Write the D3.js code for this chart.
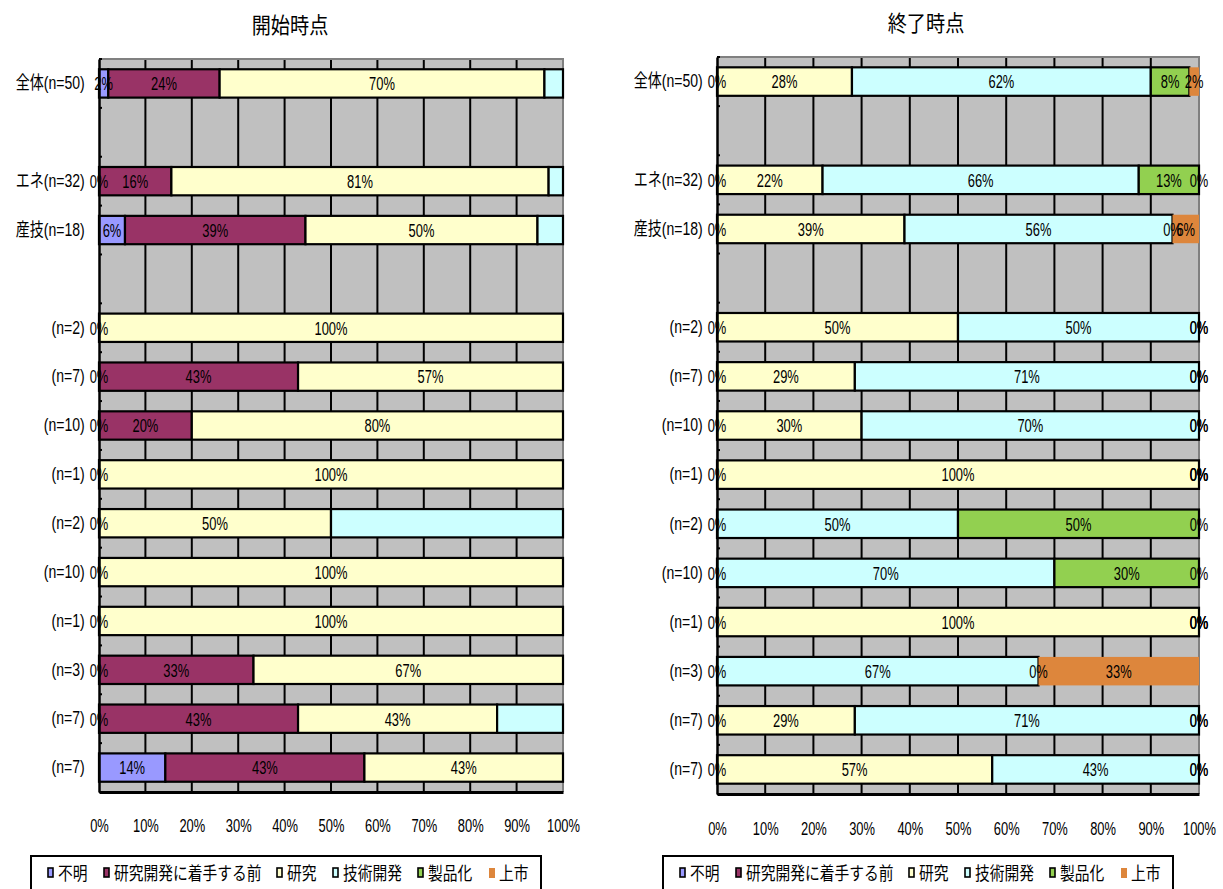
<!DOCTYPE html>
<html>
<head>
<meta charset="utf-8">
<script src="https://cdn.jsdelivr.net/npm/d3@7"></script>
<style>
  html, body { margin: 0; padding: 0; background: #ffffff; }
  svg { display: block; }
  text { font-family: "Liberation Sans", "Noto Sans CJK JP", sans-serif; fill: #000; }
</style>
</head>
<body>
<svg id="chart" width="1223" height="889"></svg>
<script>
// Row labels; empty strings are spacer rows between the groups
const categories = [
  "全体(n=50)", "", "エネ(n=32)", "産技(n=18)", "",
  "(n=2)", "(n=7)", "(n=10)", "(n=1)", "(n=2)", "(n=10)",
  "(n=1)", "(n=3)", "(n=7)", "(n=7)"
];

const seriesNames = ["不明", "研究開発に着手する前", "研究", "技術開発", "製品化", "上市"];
const seriesColors = ["#9999ff", "#993366", "#ffffcc", "#ccffff", "#92d050", "#dd863c"];
const seriesStroke = [true, true, true, true, true, false];

const xTicks = [0, 10, 20, 30, 40, 50, 60, 70, 80, 90, 100];

// 開始時点 (percent of each row; null = not present)
const startUnknown  = [2, null, 0, 5.6, null, 0, 0, 0, 0, 0, 0, 0, 0, 0, 14.3];
const startPre      = [24, null, 15.6, 38.9, null, null, 42.9, 20, null, null, null, null, 33.3, 42.9, 42.9];
const startResearch = [70, null, 81.3, 50, null, 100, 57.1, 80, 100, 50, 100, 100, 66.7, 42.9, 42.8];
const startTech     = [4, null, 3.1, 5.5, null, null, null, null, null, 50, null, null, null, 14.2, null];
const startProduct  = [null, null, null, null, null, null, null, null, null, null, null, null, null, null, null];
const startLaunch   = [null, null, null, null, null, null, null, null, null, null, null, null, null, null, null];

// 終了時点
const endUnknown  = [0, null, 0, 0, null, 0, 0, 0, 0, 0, 0, 0, 0, 0, 0];
const endPre      = [null, null, null, null, null, null, null, null, null, null, null, null, null, null, null];
const endResearch = [28, null, 21.9, 38.9, null, 50, 28.6, 30, 100, null, null, 100, null, 28.6, 57.1];
const endTech     = [62, null, 65.6, 55.6, null, 50, 71.4, 70, 0, 50, 70, 0, 66.7, 71.4, 42.9];
const endProduct  = [8, null, 12.5, 0, null, 0, 0, 0, 0, 50, 30, 0, 0, 0, 0];
const endLaunch   = [2, null, 0, 5.5, null, 0, 0, 0, 0, 0, 0, 0, 33.3, 0, 0];

const svg = d3.select("#chart");
const pct = v => d3.format(".0f")(v) + "%";

function drawPanel(opt) {
  const { title, series, showLabel, left, right, top, bottom, titleX, titleY, tickY, legendX } = opt;
  const g = svg.append("g");

  const x = d3.scaleLinear().domain([0, 100]).range([left, right]);
  const y = d3.scaleBand().domain(d3.range(categories.length)).range([top, bottom]).paddingInner(0.42).paddingOuter(0.21);

  // title
  g.append("text")
    .attr("transform", `translate(${titleX},${titleY}) scale(0.87,1)`)
    .attr("text-anchor", "middle")
    .attr("font-size", 22)
    .attr("font-family", "'Noto Sans CJK JP', sans-serif")
    .text(title);

  // plot background
  g.append("rect")
    .attr("x", left).attr("y", top)
    .attr("width", right - left).attr("height", bottom - top)
    .attr("fill", "#c0c0c0");

  // vertical gridlines
  g.append("g").selectAll("line")
    .data(xTicks.filter(t => t > 0 && t < 100))
    .join("line")
    .attr("x1", d => x(d)).attr("x2", d => x(d))
    .attr("y1", top).attr("y2", bottom)
    .attr("stroke", "#000").attr("stroke-width", 2);

  // frame top/right
  g.append("path")
    .attr("d", `M${left},${top}H${right}V${bottom}`)
    .attr("fill", "none").attr("stroke", "#808080").attr("stroke-width", 2);

  // stacked segments
  const segs = [];
  categories.forEach((c, i) => {
    let acc = 0;
    series.forEach((arr, s) => {
      const v = arr[i];
      if (v === null || v === undefined) return;
      segs.push({ row: i, s, x0: acc, x1: acc + v, v });
      acc += v;
    });
  });

  g.append("g").selectAll("rect")
    .data(segs.filter(d => d.v > 0))
    .join("rect")
    .attr("x", d => x(d.x0))
    .attr("y", d => y(d.row))
    .attr("width", d => x(Math.min(d.x1, 100)) - x(d.x0))
    .attr("height", y.bandwidth())
    .attr("fill", d => seriesColors[d.s])
    .attr("stroke", d => seriesStroke[d.s] ? "#000" : "none")
    .attr("stroke-width", 2.2);

  // bottom axis
  const xAxis = g.append("g")
    .attr("transform", `translate(0,${bottom})`)
    .call(d3.axisBottom(x).tickValues(xTicks).tickSize(0).tickPadding(tickY - bottom).tickFormat(d => d + "%"));
  xAxis.select(".domain").attr("stroke", "#000").attr("stroke-width", 3);
  xAxis.selectAll("text")
    .attr("font-size", 19).attr("dy", "0.35em").attr("y", tickY - bottom)
    .attr("transform", "scale(0.68,1)")
    .attr("font-family", "'Liberation Sans', sans-serif");

  // left axis with row labels
  const yAxis = g.append("g")
    .attr("transform", `translate(${left},0)`)
    .call(d3.axisLeft(y).tickSize(0).tickPadding(12).tickFormat(i => categories[i]));
  yAxis.select(".domain").attr("stroke", "#000").attr("stroke-width", 2.5);
  yAxis.selectAll("text")
    .attr("font-size", 18)
    .attr("transform", "scale(0.78,1) translate(-3,0)")
    .attr("x", -12 / 0.78);

  // small ticks at row boundaries
  g.append("g").selectAll("line")
    .data(d3.range(categories.length + 1))
    .join("line")
    .attr("x1", left).attr("x2", left + 3)
    .attr("y1", d => top + d * (bottom - top) / categories.length)
    .attr("y2", d => top + d * (bottom - top) / categories.length)
    .attr("stroke", "#000").attr("stroke-width", 2);

  // value labels
  g.append("g").selectAll("text")
    .data(segs.filter(d => showLabel[d.s]))
    .join("text")
    .attr("transform", d => `translate(${x((d.x0 + Math.min(d.x1, 100)) / 2)},${y(d.row) + y.bandwidth() / 2}) scale(0.68,1)`)
    .attr("text-anchor", "middle")
    .attr("dy", "0.36em")
    .attr("font-size", 19)
    .attr("font-family", "'Liberation Sans', sans-serif")
    .text(d => pct(d.v));

  // legend
  const lg = g.append("g");
  lg.append("rect")
    .attr("x", legendX).attr("y", 856)
    .attr("width", 510).attr("height", 40)
    .attr("fill", "#fff").attr("stroke", "#000").attr("stroke-width", 2);
  const offsets = [17, 73, 246, 302, 387, 458];
  const items = lg.selectAll("g.item")
    .data(seriesNames)
    .join("g").attr("class", "item")
    .attr("transform", (d, i) => `translate(${legendX + offsets[i]},873)`);
  items.append("rect")
    .attr("x", 0).attr("y", -5)
    .attr("width", (d, i) => seriesStroke[i] ? 5 : 6)
    .attr("height", (d, i) => seriesStroke[i] ? 9 : 10)
    .attr("fill", (d, i) => seriesColors[i])
    .attr("stroke", (d, i) => seriesStroke[i] ? "#000" : "none")
    .attr("stroke-width", 1.6);
  items.append("text")
    .attr("transform", "translate(10,0) scale(0.82,1)")
    .attr("dy", "0.38em")
    .attr("font-size", 18)
    .attr("font-family", "'Noto Sans CJK JP', sans-serif")
    .text(d => d);
}

drawPanel({
  title: "開始時点",
  series: [startUnknown, startPre, startResearch, startTech, startProduct, startLaunch],
  showLabel: [true, true, true, false, true, true],
  left: 99, right: 563, top: 59, bottom: 792,
  titleX: 290, titleY: 33, tickY: 825, legendX: 31
});

drawPanel({
  title: "終了時点",
  series: [endUnknown, endPre, endResearch, endTech, endProduct, endLaunch],
  showLabel: [true, true, true, true, true, true],
  left: 717, right: 1199, top: 57, bottom: 794,
  titleX: 926, titleY: 31, tickY: 828, legendX: 663
});
</script>
</body>
</html>
